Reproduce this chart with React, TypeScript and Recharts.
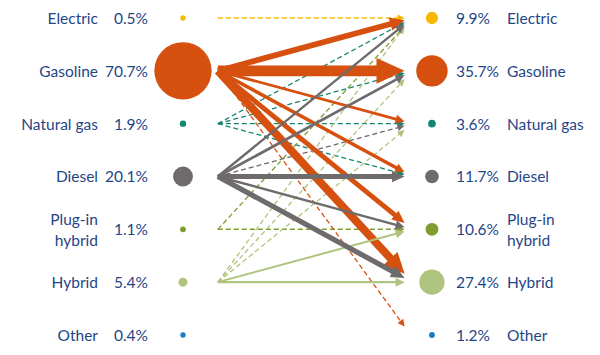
import { ScatterChart, Scatter, XAxis, YAxis, ReferenceLine } from 'recharts';

const fuels = ['Electric', 'Gasoline', 'Natural gas', 'Diesel', 'Plug-in hybrid', 'Hybrid', 'Other'];
const fuelLines = [['Electric'], ['Gasoline'], ['Natural gas'], ['Diesel'], ['Plug-in', 'hybrid'], ['Hybrid'], ['Other']];
const fuelColors = ['#f9b800', '#d6500f', '#15866f', '#6f6b6c', '#7d9e2f', '#afc47e', '#1a7cc1'];
const beforeShare = [0.5, 70.7, 1.9, 20.1, 1.1, 5.4, 0.4];
const afterShare = [9.9, 35.7, 3.6, 11.7, 10.6, 27.4, 1.2];

// flows between fuel types (index into fuels), with a rough relative size
const flowFrom = [0, 2, 2, 2, 2, 4, 4, 5, 5, 5, 1, 3, 1, 1, 1, 1, 1, 1, 5, 5, 3, 3, 3, 3, 3];
const flowTo = [0, 0, 1, 2, 3, 0, 4, 0, 1, 2, 6, 2, 2, 3, 4, 0, 5, 1, 4, 5, 0, 1, 4, 3, 5];
const flowSize = [1, 1, 1, 1, 1, 1, 1.5, 1, 1, 1, 1, 1, 7, 9, 12, 14, 20, 27, 5, 6, 6, 7, 6, 12, 13];

const TEXT = '#1f4687';
const FLOW_START = 0.14;
const FLOW_END = 0.89;

const nodes = [
  ...fuels.map((name, i) => ({ x: 0, y: i, share: beforeShare[i], idx: i, side: 'left', name })),
  ...fuels.map((name, i) => ({ x: 1, y: i, share: afterShare[i], idx: i, side: 'right', name })),
];

const NodeShape = (props: any) => {
  const { cx, cy, payload } = props;
  const r = 2.5 + 0.37 * payload.share;
  const lines = fuelLines[payload.idx];
  const left = payload.side === 'left';
  const nameX = left ? cx - 85 : cx + 75;
  const pctX = left ? cx - 35 : cx + 24;
  const anchor = left ? 'end' : 'start';
  return (
    <g>
      <circle cx={cx} cy={cy} r={r} fill={fuelColors[payload.idx]} />
      <text x={pctX} y={cy} textAnchor={anchor} dominantBaseline="central" fill={TEXT} fontSize={15.5}>
        {payload.share.toFixed(1)}%
      </text>
      {lines.map((t, k) => (
        <text
          key={k}
          x={nameX}
          y={lines.length > 1 ? cy - 10 + k * 21 : cy}
          textAnchor={anchor}
          dominantBaseline="central"
          fill={TEXT}
          fontSize={15.5}
        >
          {t}
        </text>
      ))}
    </g>
  );
};

const arrowShape = (color: string, width: number, dashed: boolean) => (p: any) => {
  const { x1, y1, x2, y2 } = p;
  const dx = x2 - x1;
  const dy = y2 - y1;
  const len = Math.hypot(dx, dy);
  const ux = dx / len;
  const uy = dy / len;
  const headLen = dashed ? 7 : Math.max(9, width * 2.6);
  const headHalf = dashed ? 3.5 : Math.max(4.5, width * 1.2);
  const bx = x2 - ux * headLen;
  const by = y2 - uy * headLen;
  const pts = `${x2},${y2} ${bx - uy * headHalf},${by + ux * headHalf} ${bx + uy * headHalf},${by - ux * headHalf}`;
  return (
    <g>
      <line
        x1={x1}
        y1={y1}
        x2={bx + ux}
        y2={by + uy}
        stroke={color}
        strokeWidth={width}
        strokeDasharray={dashed ? '5 3' : undefined}
      />
      <polygon points={pts} fill={color} />
    </g>
  );
};

const App = () => {
  return (
    <div style={{ position: 'absolute', left: 0, top: 0, fontFamily: 'Lato, sans-serif' }}>
      <ScatterChart width={600} height={355} margin={{ top: 0, right: 0, bottom: 0, left: 0 }}>
        <XAxis type="number" dataKey="x" domain={[-0.735, 1.675]} allowDataOverflow hide />
        <YAxis type="number" dataKey="y" domain={[-0.341, 6.379]} allowDataOverflow reversed hide />
        {flowFrom.map((s, i) => {
          const t = flowTo[i];
          const dashed = flowSize[i] < 3;
          const width = dashed ? 1 + 0.3 * flowSize[i] : 0.4 * flowSize[i];
          const off = Math.max(-4, Math.min(4, s - t)) * 0.04;
          return (
            <ReferenceLine
              key={i}
              segment={[
                { x: FLOW_START, y: s },
                { x: FLOW_END, y: t + off },
              ]}
              shape={arrowShape(fuelColors[s], width, dashed)}
            />
          );
        })}
        <Scatter data={nodes} shape={NodeShape} isAnimationActive={false} />
      </ScatterChart>
    </div>
  );
};

export default App;
